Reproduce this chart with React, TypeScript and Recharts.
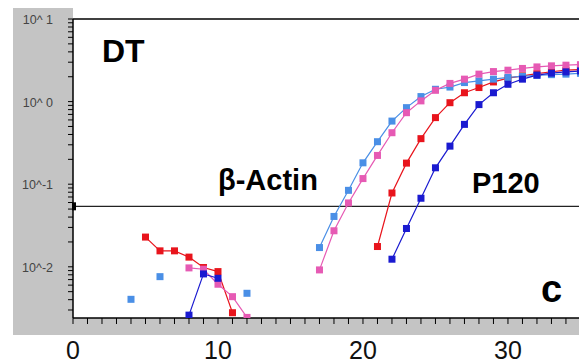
import React from "react";
import { LineChart, Line, XAxis, YAxis, ReferenceLine, ReferenceDot } from "recharts";

const cycles = [1, 2, 3, 4, 5, 6, 7, 8, 9, 10, 11, 12, 13, 14, 15, 16, 17, 18, 19, 20, 21, 22, 23, 24, 25, 26, 27, 28, 29, 30, 31, 32, 33, 34, 35];

const red = [null, null, null, null, 0.0229, 0.0156, 0.0156, 0.0131, 0.0098, 0.00875, 0.00278, null, null, null, null, null, null, null, null, null, 0.0176, 0.0783, 0.18, 0.356, 0.64, 0.97, 1.28, 1.48, 1.73, 1.92, 2.05, 2.18, 2.3, 2.4, 2.45];
const blue = [null, null, null, null, null, null, null, 0.0026, 0.0082, 0.00726, null, null, null, null, null, null, null, null, null, null, null, 0.01236, 0.0291, 0.0676, 0.158, 0.289, 0.53, 0.92, 1.28, 1.62, 1.87, 2.09, 2.21, 2.29, 2.35];
const lightBlue = [null, null, null, 0.00404, null, 0.0076, null, null, null, null, null, 0.00478, null, null, null, null, 0.0171, 0.0407, 0.0843, 0.1815, 0.327, 0.581, 0.845, 1.15, 1.41, 1.5, 1.7, 1.78, 1.87, 1.96, 2.02, 2.08, 2.12, 2.15, 2.2];
const pink = [null, null, null, null, null, null, null, 0.0097, 0.00935, 0.00615, 0.00435, 0.00244, null, null, null, null, 0.00917, 0.0273, 0.0593, 0.117, 0.223, 0.42, 0.734, 1.02, 1.37, 1.66, 1.87, 2.15, 2.31, 2.4, 2.52, 2.63, 2.71, 2.76, 2.8];

const threshold = 0.054;

const xTicks = [0, 1, 2, 3, 4, 5, 6, 7, 8, 9, 10, 11, 12, 13, 14, 15, 16, 17, 18, 19, 20, 21, 22, 23, 24, 25, 26, 27, 28, 29, 30, 31, 32, 33, 34];
const xLabels = [0, 10, 20, 30];
const yTicks = [0.003, 0.004, 0.005, 0.006, 0.007, 0.008, 0.009, 0.01, 0.02, 0.03, 0.04, 0.05, 0.06, 0.07, 0.08, 0.09, 0.1, 0.2, 0.3, 0.4, 0.5, 0.6, 0.7, 0.8, 0.9, 1, 2, 3, 4, 5, 6, 7, 8, 9, 10];
const yLabels: Record<string, string> = { "10": "10^ 1", "1": "10^ 0", "0.1": "10^-1", "0.01": "10^-2" };

const data = cycles.map((c, i) => ({
  cycle: c,
  red: red[i],
  blue: blue[i],
  lightBlue: lightBlue[i],
  pink: pink[i],
}));

const FONT = "'Liberation Sans', Arial, sans-serif";

const squareDot = (color: string) => (props: any) => {
  const { cx, cy, index } = props;
  if (cx == null || cy == null || props.value == null) return <g key={`e-${index}`} />;
  return <rect key={`d-${index}`} x={cx - 3.5} y={cy - 3.5} width={7} height={7} fill={color} />;
};

const XTick = (props: any) => {
  const { x, y, payload } = props;
  if (!xLabels.includes(payload.value)) return <g />;
  return (
    <text x={x} y={y + 35} textAnchor="middle" fontSize={25} fill="#111" fontFamily={FONT}>
      {payload.value}
    </text>
  );
};

const YTick = (props: any) => {
  const { x, y, payload } = props;
  const label = yLabels[String(payload.value)];
  if (!label) return <g />;
  return (
    <text x={x} y={y} dy={5} textAnchor="end" fontSize={12.5} fill="#444" fontFamily={FONT}>
      {label}
    </text>
  );
};

const series = [
  { key: "red", color: "#e8141c" },
  { key: "lightBlue", color: "#4a8fe6" },
  { key: "pink", color: "#e65ab4" },
  { key: "blue", color: "#1a1ad0" },
];

export default function App() {
  return (
    <div style={{ position: "absolute", left: 0, top: 0, width: 579, height: 363, background: "#fff", overflow: "hidden" }}>
      <div style={{ position: "absolute", left: 13, top: 8, width: 60, height: 327, background: "#c4c4c4" }} />
      <div style={{ position: "absolute", left: 13, top: 318, width: 566, height: 17, background: "#c4c4c4" }} />
      <div style={{ position: "absolute", left: 0, top: 0 }}>
        <LineChart width={579} height={363} data={data} margin={{ top: 19, right: 0, bottom: 0, left: 13 }}>
          <XAxis
            dataKey="cycle"
            type="number"
            domain={[0, 34.9]}
            ticks={xTicks}
            interval={0}
            allowDataOverflow
            height={45}
            tickSize={6}
            tickMargin={0}
            tick={XTick}
            axisLine={{ stroke: "#000", strokeWidth: 1.5 }}
            tickLine={{ stroke: "#000", strokeWidth: 1 }}
          />
          <YAxis
            scale="log"
            domain={[0.0024, 10]}
            allowDataOverflow
            ticks={yTicks}
            interval={0}
            width={60}
            tickSize={5}
            tickMargin={15}
            tick={YTick}
            axisLine={{ stroke: "#000", strokeWidth: 1.5 }}
            tickLine={{ stroke: "#000", strokeWidth: 1 }}
          />
          <ReferenceLine y={10} stroke="#000" strokeWidth={1.5} />
          <ReferenceLine y={threshold} stroke="#222" strokeWidth={1.3} />
          <ReferenceDot
            x={0}
            y={threshold}
            ifOverflow="visible"
            shape={(p: any) => <rect x={p.cx - 1} y={p.cy - 4} width={4} height={8} fill="#000" />}
          />
          {series.map((s) => (
            <Line
              key={s.key}
              dataKey={s.key}
              stroke={s.color}
              strokeWidth={1.2}
              dot={squareDot(s.color)}
              activeDot={false}
              isAnimationActive={false}
            />
          ))}
        </LineChart>
      </div>
      <div style={{ position: "absolute", left: 102, top: 33, fontFamily: FONT, fontWeight: 700, fontSize: 32, color: "#000" }}>DT</div>
      <div style={{ position: "absolute", left: 218, top: 164, fontFamily: FONT, fontWeight: 700, fontSize: 29, color: "#000" }}>β-Actin</div>
      <div style={{ position: "absolute", left: 472, top: 167, fontFamily: FONT, fontWeight: 700, fontSize: 29, color: "#000" }}>P120</div>
      <div style={{ position: "absolute", left: 541, top: 268, fontFamily: FONT, fontWeight: 700, fontSize: 38, color: "#000" }}>c</div>
    </div>
  );
}
